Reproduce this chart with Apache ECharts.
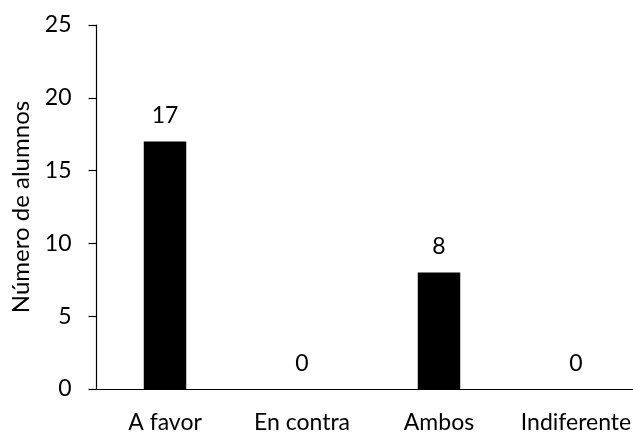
<!DOCTYPE html>
<html>
<head>
<meta charset="utf-8">
<script src="https://cdn.jsdelivr.net/npm/echarts@6/dist/echarts.min.js"></script>
<style>
  html, body { margin: 0; padding: 0; background: #fff; overflow: hidden; }
  #wrap { width: 633px; height: 434px; overflow: hidden; }
  /* the plot runs slightly past the right edge of the frame */
  #chart { width: 645px; height: 434px; }
</style>
</head>
<body>
<div id="wrap"><div id="chart"></div></div>
<script>
// Opinión de los alumnos: número de respuestas por opción
const categories = ['A favor', 'En contra', 'Ambos', 'Indiferente'];
const alumnos = [17, 0, 8, 0];
const yTicks = [0, 5, 10, 15, 20, 25];

const FONT = 'Lato, "Open Sans", sans-serif';
const chart = echarts.init(document.getElementById('chart'), null, { renderer: 'canvas' });

chart.setOption({
  animation: false,
  backgroundColor: '#ffffff',
  grid: { left: 96.5, right: 0.5, top: 25, bottom: 44.5, containLabel: false },
  xAxis: {
    type: 'category',
    data: categories,
    boundaryGap: true,
    axisLine: { show: true, lineStyle: { color: '#000', width: 1.2 } },
    axisTick: { show: false },
    axisLabel: { color: '#000', fontFamily: FONT, fontSize: 23, margin: 22, interval: 0, hideOverlap: false }
  },
  yAxis: {
    type: 'value',
    min: yTicks[0],
    max: yTicks[yTicks.length - 1],
    interval: yTicks[1] - yTicks[0],
    name: 'Número de alumnos',
    nameLocation: 'middle',
    nameGap: 63,
    nameRotate: 90,
    nameTextStyle: { color: '#000', fontFamily: FONT, fontSize: 24 },
    axisLine: { show: true, lineStyle: { color: '#000', width: 1.2 } },
    axisTick: { show: true, inside: false, length: 8, lineStyle: { color: '#000', width: 1.2 } },
    axisLabel: { color: '#000', fontFamily: FONT, fontSize: 23, margin: 25 },
    splitLine: { show: false }
  },
  series: [{
    type: 'bar',
    data: alumnos,
    barWidth: '31%',
    itemStyle: { color: '#000' },
    label: {
      show: true,
      position: 'top',
      distance: 14,
      color: '#000',
      fontFamily: FONT,
      fontSize: 23
    }
  }]
});
</script>
</body>
</html>
